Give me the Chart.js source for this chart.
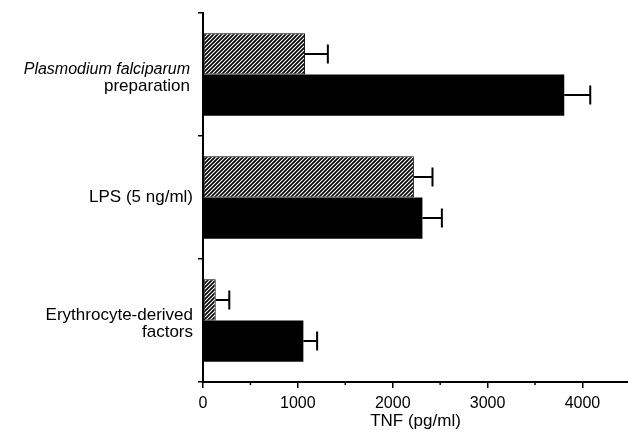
<!DOCTYPE html>
<html lang="en">
<head>
    <meta charset="UTF-8">
    <title>TNF</title>
    <script src="https://cdn.jsdelivr.net/npm/chart.js"></script>
    <style>
        html, body {
            margin: 0;
            padding: 0;
            background: #fff;
        }
        #wrap {
            width: 628px;
            height: 432px;
        }
    </style>
</head>
<body>
<div id="wrap"><canvas id="grafico"></canvas></div>
<script>
    // datos
    const categorias = [
        ['Plasmodium falciparum', 'preparation'],
        ['LPS (5 ng/ml)'],
        ['Erythrocyte-derived', 'factors']
    ];
    const rayados = [1076, 2223, 134];
    const rayadosErr = [240, 196, 143];
    const negros = [3808, 2313, 1058];
    const negrosErr = [274, 205, 145];
    const ticksX = [0, 1000, 2000, 3000, 4000];
    const ticksMenores = [500, 1500, 2500, 3500];

    function patronRayado() {
        const c = document.createElement('canvas');
        c.width = 4;
        c.height = 4;
        const g = c.getContext('2d');
        g.fillStyle = '#fff';
        g.fillRect(0, 0, 4, 4);
        g.strokeStyle = '#000';
        g.lineWidth = 1.7;
        g.beginPath();
        g.moveTo(-1, 5); g.lineTo(5, -1);
        g.moveTo(-1, 1); g.lineTo(1, -1);
        g.moveTo(3, 5); g.lineTo(5, 3);
        g.stroke();
        return g.createPattern(c, 'repeat');
    }

    const barrasError = {
        id: 'barrasError',
        afterDatasetsDraw(chart) {
            const ctx = chart.ctx;
            const x = chart.scales.x;
            const errores = [rayadosErr, negrosErr];
            ctx.save();
            ctx.strokeStyle = '#000';
            ctx.lineWidth = 2;
            chart.data.datasets.forEach((ds, i) => {
                chart.getDatasetMeta(i).data.forEach((bar, j) => {
                    const x0 = x.getPixelForValue(ds.data[j]);
                    const x1 = x.getPixelForValue(ds.data[j] + errores[i][j]);
                    const y = bar.y;
                    ctx.beginPath();
                    ctx.moveTo(x0, y);
                    ctx.lineTo(x1, y);
                    ctx.moveTo(x1, y - 9.5);
                    ctx.lineTo(x1, y + 9.5);
                    ctx.stroke();
                });
            });
            ctx.restore();
        }
    };

    const etiquetas = {
        id: 'etiquetas',
        afterDraw(chart) {
            const ctx = chart.ctx;
            const y = chart.scales.y;
            const x = chart.scales.x;
            ctx.save();
            ctx.fillStyle = '#000';
            ctx.textAlign = 'right';
            ctx.textBaseline = 'middle';
            categorias.forEach((lineas, i) => {
                const yc = y.getPixelForValue(i);
                if (lineas.length === 1) {
                    ctx.font = '17px "Liberation Sans", Arial, sans-serif';
                    ctx.fillText(lineas[0], 193, yc - 0.5);
                } else {
                    lineas.forEach((t, k) => {
                        const italica = (i === 0 && k === 0);
                        ctx.font = (italica ? 'italic 16px' : '17px') + ' "Liberation Sans", Arial, sans-serif';
                        ctx.fillText(t, i === 0 ? 190 : 193, yc + 3.5 + (k === 0 ? -8.5 : 8.5));
                    });
                }
            });
            // marcas menores del eje x
            ctx.strokeStyle = '#000';
            ctx.lineWidth = 1.5;
            ticksMenores.forEach(v => {
                const px = x.getPixelForValue(v);
                ctx.beginPath();
                ctx.moveTo(px, x.top);
                ctx.lineTo(px, x.top + 3);
                ctx.stroke();
            });
            ctx.restore();
        }
    };

    const ctx = document.getElementById('grafico').getContext('2d');
    new Chart(ctx, {
        type: 'bar',
        data: {
            labels: categorias,
            datasets: [{
                data: rayados,
                backgroundColor: patronRayado(),
                borderColor: '#000',
                borderWidth: 1,
                borderSkipped: false
            }, {
                data: negros,
                backgroundColor: '#000',
                borderColor: '#000',
                borderWidth: 0
            }]
        },
        options: {
            indexAxis: 'y',
            responsive: true,
            maintainAspectRatio: false,
            animation: false,
            layout: { padding: { top: 13, right: 0, bottom: 0, left: 0 } },
            datasets: {
                bar: { categoryPercentage: 0.67, barPercentage: 1.0 }
            },
            plugins: {
                legend: { display: false },
                tooltip: { enabled: false }
            },
            scales: {
                x: {
                    min: 0,
                    max: 4480,
                    afterBuildTicks: (s) => { s.ticks = ticksX.map(v => ({ value: v })); },
                    afterFit: (s) => { s.height = 50; },
                    border: { color: '#000', width: 2 },
                    grid: { drawOnChartArea: false, color: '#000', lineWidth: 1.5, tickLength: 6 },
                    ticks: {
                        color: '#000',
                        padding: 6,
                        maxRotation: 0,
                        callback: (v) => String(v),
                        font: { family: '"Liberation Sans", Arial, sans-serif', size: 16 }
                    },
                    title: {
                        display: true,
                        text: 'TNF (pg/ml)',
                        color: '#000',
                        padding: { top: 0, bottom: 0 },
                        font: { family: '"Liberation Sans", Arial, sans-serif', size: 17 }
                    }
                },
                y: {
                    afterFit: (s) => { s.width = 203; },
                    border: { color: '#000', width: 2 },
                    grid: { drawOnChartArea: false, offset: true, color: '#000', lineWidth: 1.5, tickLength: 5 },
                    ticks: { display: false }
                }
            }
        },
        plugins: [barrasError, etiquetas]
    });
</script>
</body>
</html>
